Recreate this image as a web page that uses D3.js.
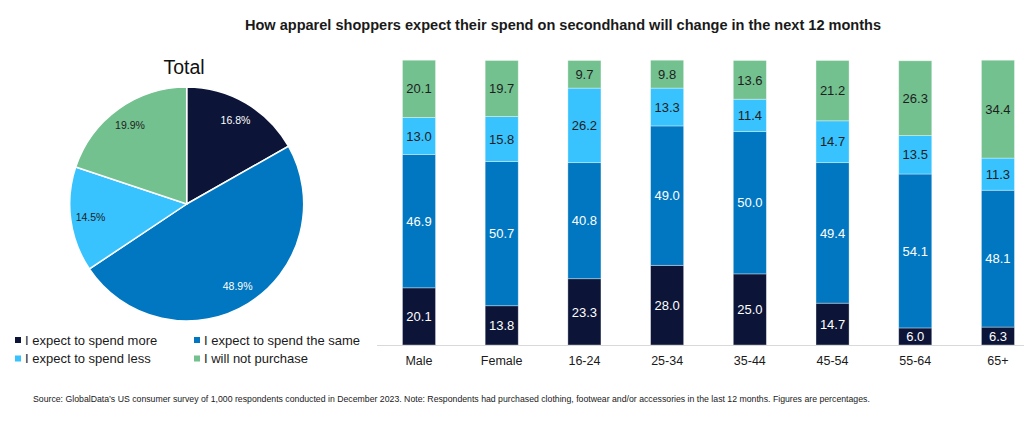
<!DOCTYPE html>
<html><head><meta charset="utf-8">
<script src="https://cdn.jsdelivr.net/npm/d3@7"></script>
<style>body{margin:0;background:#fff}svg{display:block}text{font-family:"Liberation Sans",Arial,sans-serif}</style>
</head><body>
<svg id="c" width="1024" height="422"></svg>
<script>
const seriesNames = ["I expect to spend more","I expect to spend the same","I expect to spend less","I will not purchase"];
const colors = ["#0c1538","#0077c0","#38c3ff","#73c18f"];
const labelColors = ["#ffffff","#ffffff","#1e1e1e","#1e1e1e"];
const pieValues = [16.8,48.9,14.5,19.9];
const categories = ["Male","Female","16-24","25-34","35-44","45-54","55-64","65+"];
const spendMore = [20.1,13.8,23.3,28.0,25.0,14.7,6.0,6.3];
const spendSame = [46.9,50.7,40.8,49.0,50.0,49.4,54.1,48.1];
const spendLess = [13.0,15.8,26.2,13.3,11.4,14.7,13.5,11.3];
const notPurchase = [20.1,19.7,9.7,9.8,13.6,21.2,26.3,34.4];
const titleText = "How apparel shoppers expect their spend on secondhand will change in the next 12 months";
const sourceText = "Source: GlobalData\u2019s US consumer survey of 1,000 respondents conducted in December 2023. Note: Respondents had purchased clothing, footwear and/or accessories in the last 12 months. Figures are percentages.";

const svg = d3.select("#c");

function fit(sel, w){
  const n = sel.node(); const cur = n.getComputedTextLength();
  const fs = parseFloat(sel.attr("font-size"));
  sel.attr("font-size", fs * w / cur);
}

// Title
svg.append("text").attr("x",563).attr("y",30).attr("text-anchor","middle")
  .attr("font-size",14).attr("font-weight","bold").attr("fill","#1a1a1a").text(titleText)
  .call(fit,637);

// Source
svg.append("text").attr("x",33).attr("y",402).attr("font-size",9).attr("fill","#1a1a1a")
  .text(sourceText).call(fit,837);

// Pie
const cx=186.7, cy=204, R=117;
svg.append("text").attr("x",184).attr("y",74).attr("text-anchor","middle")
  .attr("font-size",19.5).attr("fill","#111").text("Total");
const pie = d3.pie().sort(null).value(d=>d)(pieValues);
const arc = d3.arc().innerRadius(0).outerRadius(R);
const labArc = d3.arc().innerRadius(97).outerRadius(97);
const pg = svg.append("g").attr("transform",`translate(${cx},${cy})`);
pg.selectAll("path").data(pie).join("path").attr("d",arc)
  .attr("fill",(d,i)=>colors[i]).attr("stroke","#fff").attr("stroke-width",1.5);
pg.selectAll("text").data(pie).join("text")
  .attr("transform",d=>{const c=labArc.centroid(d);return `translate(${c[0]},${c[1]})`;})
  .attr("text-anchor","middle").attr("dy","0.35em").attr("font-size",10.5)
  .attr("fill",(d,i)=>labelColors[i]).text(d=>d.data.toFixed(1)+"%");

// Legend
const legPos = [[15,340],[194,340],[15,358.5],[194,358.5]];
const lg = svg.append("g");
seriesNames.forEach((n,i)=>{
  const [x,y]=legPos[i];
  lg.append("rect").attr("x",x).attr("y",y-3).attr("width",6).attr("height",6).attr("fill",colors[i]);
  lg.append("text").attr("x",x+10).attr("y",y).attr("dy","0.35em").attr("font-size",13).attr("fill","#1a1a1a").text(n);
});

// Bars
const x = d3.scaleBand().domain(categories).range([377.65,1039.3]).paddingInner(0.6).paddingOuter(0.3);
const y = d3.scaleLinear().domain([0,100]).range([345,60.5]);
const rows = categories.map((c,i)=>({cat:c, s0:spendMore[i], s1:spendSame[i], s2:spendLess[i], s3:notPurchase[i]}));
const stack = d3.stack().keys(["s0","s1","s2","s3"])(rows);
const bg = svg.append("g");
stack.forEach((layer,k)=>{
  const g = bg.append("g");
  g.selectAll("rect").data(layer).join("rect")
    .attr("x",d=>x(d.data.cat)).attr("width",x.bandwidth())
    .attr("y",d=>y(d[1])).attr("height",d=>y(d[0])-y(d[1]))
    .attr("fill",colors[k]).attr("stroke","rgba(255,255,255,0.45)").attr("stroke-width",0.8);
  g.selectAll("text").data(layer).join("text")
    .attr("x",d=>x(d.data.cat)+x.bandwidth()/2).attr("y",d=>(y(d[0])+y(d[1]))/2)
    .attr("dy","0.36em").attr("text-anchor","middle").attr("font-size",13)
    .attr("fill",labelColors[k]).text(d=>(d[1]-d[0]).toFixed(1));
});
// baseline
svg.append("line").attr("x1",377).attr("x2",1024).attr("y1",345.5).attr("y2",345.5).attr("stroke","#d9d9d9").attr("stroke-width",1);
// x axis labels
const ax = svg.append("g").attr("transform","translate(0,345.5)").call(d3.axisBottom(x).tickSize(0).tickPadding(11));
ax.select(".domain").remove();
ax.selectAll("text").attr("font-size",12.5).attr("fill","#1a1a1a").attr("font-family",'"Liberation Sans",Arial,sans-serif');
</script>
</body></html>
